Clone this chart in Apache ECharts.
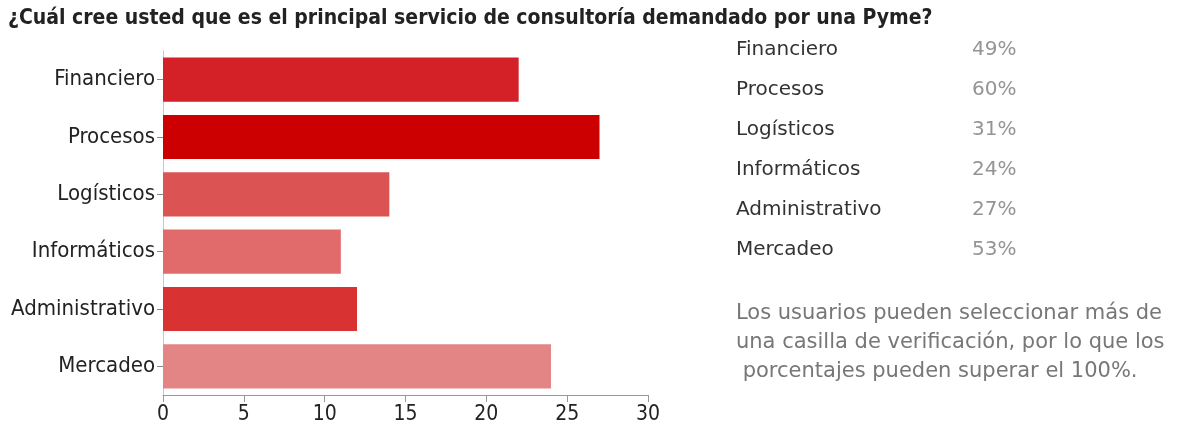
<!DOCTYPE html>
<html>
<head>
<meta charset="utf-8">
<script src="https://cdn.jsdelivr.net/npm/echarts@6/dist/echarts.min.js"></script>
<style>
  html, body { margin: 0; padding: 0; background: #fff; }
  #chart { width: 1178px; height: 427px; }
</style>
</head>
<body>
<div id="chart"></div>
<script>
// Survey answers: number of respondents choosing each consulting service
const titleText = '¿Cuál cree usted que es el principal servicio de consultoría demandado por una Pyme?';
const categories = ['Financiero', 'Procesos', 'Logísticos', 'Informáticos', 'Administrativo', 'Mercadeo'];
const counts = [22, 27, 14, 11, 12, 24];
const percents = ['49%', '60%', '31%', '24%', '27%', '53%'];
const barColors = ['#d42027', '#cc0000', '#dc5353', '#e16b6b', '#d93232', '#e38585'];
const xTicks = [0, 5, 10, 15, 20, 25, 30];
const noteLines = [
  'Los usuarios pueden seleccionar más de',
  'una casilla de verificación, por lo que los',
  ' porcentajes pueden superar el 100%.'
];

const chart = echarts.init(document.getElementById('chart'));

const condensed = '"DejaVu Sans Condensed", "Liberation Sans Narrow", "Arial Narrow", sans-serif';
const wide = '"DejaVu Sans", Verdana, sans-serif';

// Summary table and note on the right side
const graphics = [];
categories.forEach((name, i) => {
  graphics.push({
    type: 'text', x: 736, y: 50 + i * 40,
    style: { text: name, font: '20px ' + wide, fill: '#333', verticalAlign: 'middle' }
  });
  graphics.push({
    type: 'text', x: 972, y: 50 + i * 40,
    style: { text: percents[i], font: '20px ' + wide, fill: '#949494', verticalAlign: 'middle' }
  });
});
noteLines.forEach((line, i) => {
  graphics.push({
    type: 'text', x: 736, y: 314 + i * 29,
    style: { text: line, font: '21px ' + wide, fill: '#777', verticalAlign: 'middle' }
  });
});

chart.setOption({
  animation: false,
  title: {
    text: titleText,
    left: 8, top: 8, padding: 0,
    textStyle: { fontFamily: condensed, fontSize: 21, fontWeight: 'bold', color: '#222' }
  },
  grid: { left: 163, top: 51, width: 485, height: 344, containLabel: false },
  xAxis: {
    type: 'value', min: 0, max: 30, interval: 5,
    axisLine: { show: true, lineStyle: { color: '#999', width: 1 } },
    axisTick: { show: true, length: 7, lineStyle: { color: '#999' } },
    splitLine: { show: false },
    axisLabel: {
      margin: 9, color: '#222', fontFamily: condensed, fontSize: 21,
      formatter: v => xTicks.includes(v) ? String(v) : ''
    }
  },
  yAxis: {
    type: 'category', data: categories, inverse: true,
    axisLine: { show: true, lineStyle: { color: '#b9ccd6', width: 1 } },
    axisTick: { show: true, alignWithLabel: true, length: 6, lineStyle: { color: '#888' } },
    axisLabel: { margin: 8, color: '#222', fontFamily: condensed, fontSize: 22 }
  },
  series: [{
    type: 'bar',
    data: counts.map((v, i) => ({ value: v, itemStyle: { color: barColors[i] } })),
    barCategoryGap: '23%'
  }],
  graphic: graphics
});
</script>
</body>
</html>
